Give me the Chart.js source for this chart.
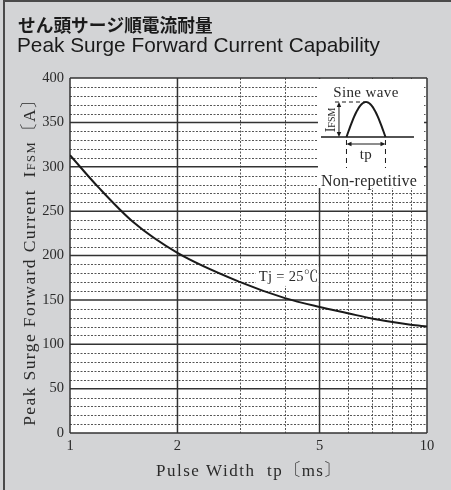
<!DOCTYPE html>
<html>
<head>
<meta charset="utf-8">
<script src="https://cdn.jsdelivr.net/npm/chart.js@4.4.1/dist/chart.umd.min.js"></script>
<style>
  html, body { margin: 0; padding: 0; background: #d3d4d6; }
  #wrap { width: 451px; height: 490px; }
</style>
</head>
<body>
<div id="wrap"><canvas id="surgeChart" width="451" height="490"></canvas></div>
<script>
// Peak surge forward current vs pulse width
const pulseWidths = [1, 1.2, 1.5, 2, 3, 4, 5, 6, 7, 8, 9, 10]
const surgeCurrent = [313, 277, 238, 203, 170, 152, 142, 135, 129, 125, 122, 120]

// tick labels and grid lines
const xLabelTicks = [1, 2, 5, 10]
const xMinorTicks = [3, 4, 6, 7, 8, 9]
const yMajorTicks = [0, 50, 100, 150, 200, 250, 300, 350, 400]
const yMinorStep = 10

const SERIF = '"Liberation Serif", "Noto Serif CJK JP", "Noto Sans CJK JP", serif'
const TEXT = '#2a2a2a'

// white plot background + grid, drawn through the scales
const gridPlugin = {
  id: 'grid',
  beforeDatasetsDraw(chart) {
    const { ctx, chartArea: a, scales: { x, y } } = chart
    ctx.save()
    ctx.fillStyle = '#fff'
    ctx.fillRect(a.left, a.top, a.right - a.left, a.bottom - a.top)

    // minor dashed lines
    ctx.strokeStyle = '#555'
    ctx.lineWidth = 1
    ctx.setLineDash([2, 1.5])
    for (let v = 0; v <= 400; v += yMinorStep) {
      if (yMajorTicks.includes(v)) continue
      const py = Math.round(y.getPixelForValue(v)) + 0.5
      ctx.beginPath(); ctx.moveTo(a.left, py); ctx.lineTo(a.right, py); ctx.stroke()
    }
    xMinorTicks.forEach((v) => {
      const px = Math.round(x.getPixelForValue(v)) + 0.5
      ctx.beginPath(); ctx.moveTo(px, a.top); ctx.lineTo(px, a.bottom); ctx.stroke()
    })

    // major solid lines
    ctx.setLineDash([])
    ctx.strokeStyle = '#333'
    ctx.lineWidth = 1.5
    yMajorTicks.forEach((v) => {
      const py = y.getPixelForValue(v)
      ctx.beginPath(); ctx.moveTo(a.left, py); ctx.lineTo(a.right, py); ctx.stroke()
    })
    xLabelTicks.forEach((v) => {
      const px = x.getPixelForValue(v)
      ctx.beginPath(); ctx.moveTo(px, a.top); ctx.lineTo(px, a.bottom); ctx.stroke()
    })
    ctx.restore()
  },
}

// draw text made of pieces with different fonts (I + small FSM), returns width
function drawPieces(ctx, pieces, startX, baseY) {
  let cx = startX
  pieces.forEach((p) => {
    ctx.font = p.font
    ctx.fillText(p.text, cx, baseY)
    cx += ctx.measureText(p.text).width
  })
  return cx - startX
}
function measurePieces(ctx, pieces) {
  let w = 0
  pieces.forEach((p) => { ctx.font = p.font; w += ctx.measureText(p.text).width })
  return w
}

function arrowHead(ctx, x, y, dir) {
  // dir: unit vector the arrow points to
  const len = 5, half = 2.2
  const [dx, dy] = dir
  ctx.beginPath()
  ctx.moveTo(x, y)
  ctx.lineTo(x - dx * len - dy * half, y - dy * len + dx * half)
  ctx.lineTo(x - dx * len + dy * half, y - dy * len - dx * half)
  ctx.closePath()
  ctx.fill()
}

// Tj label and the sine wave inset
const annotationPlugin = {
  id: 'annotations',
  afterDatasetsDraw(chart) {
    const { ctx, chartArea: a, scales: { x, y } } = chart
    ctx.save()

    // Tj = 25℃ label, right edge at the 5 ms line
    const tjRight = x.getPixelForValue(5) - 1
    const tjY = y.getPixelForValue(177)
    ctx.font = '14.5px ' + SERIF
    ctx.letterSpacing = '0.3px'
    const tjText = 'Tj = 25℃'
    const tjW = ctx.measureText(tjText).width
    ctx.fillStyle = '#fff'
    ctx.fillRect(tjRight - tjW - 3, tjY - 9, tjW + 3, 19)
    ctx.fillStyle = TEXT
    ctx.textAlign = 'right'
    ctx.textBaseline = 'middle'
    ctx.fillText(tjText, tjRight, tjY + 1)

    // inset box
    const x0 = x.getPixelForValue(4.95)
    const x1 = a.right - 3
    const y0 = a.top + 1
    const y1 = y.getPixelForValue(276)
    ctx.fillStyle = '#fff'
    ctx.fillRect(x0, y0, x1 - x0, y1 - y0)

    ctx.fillStyle = TEXT
    ctx.strokeStyle = '#1a1a1a'
    ctx.textAlign = 'center'
    ctx.textBaseline = 'middle'
    ctx.letterSpacing = '0.4px'
    ctx.font = '15px ' + SERIF
    ctx.fillText('Sine wave', x0 + 48, y0 + 14)

    const sL = x0 + 28.5, sR = x0 + 67.5
    const base = y0 + 58, peak = y0 + 23
    // baseline
    ctx.lineWidth = 1.4
    ctx.beginPath(); ctx.moveTo(x0 + 3, base); ctx.lineTo(x0 + 96, base); ctx.stroke()
    // half sine
    ctx.lineWidth = 2
    ctx.beginPath()
    for (let i = 0; i <= 40; i++) {
      const t = i / 40
      const px = sL + (sR - sL) * t
      const py = base - (base - peak) * Math.sin(Math.PI * t)
      if (i === 0) ctx.moveTo(px, py); else ctx.lineTo(px, py)
    }
    ctx.stroke()
    // dashed peak line and dashed verticals
    ctx.lineWidth = 1
    ctx.setLineDash([4, 3])
    ctx.beginPath(); ctx.moveTo(x0 + 17, peak); ctx.lineTo(x0 + 47, peak); ctx.stroke()
    ctx.setLineDash([5, 4])
    ctx.beginPath(); ctx.moveTo(sL, base + 3); ctx.lineTo(sL, y0 + 89); ctx.stroke()
    ctx.beginPath(); ctx.moveTo(sR, base + 3); ctx.lineTo(sR, y0 + 89); ctx.stroke()
    ctx.setLineDash([])
    // IFSM arrow
    const ax = x0 + 21
    ctx.beginPath(); ctx.moveTo(ax, peak + 3); ctx.lineTo(ax, base - 3); ctx.stroke()
    ctx.fillStyle = '#1a1a1a'
    arrowHead(ctx, ax, peak, [0, -1])
    arrowHead(ctx, ax, base, [0, 1])
    // tp arrow
    const ty = y0 + 65
    ctx.beginPath(); ctx.moveTo(sL + 3, ty); ctx.lineTo(sR - 3, ty); ctx.stroke()
    arrowHead(ctx, sL, ty, [-1, 0])
    arrowHead(ctx, sR, ty, [1, 0])

    ctx.fillStyle = TEXT
    ctx.font = '15px ' + SERIF
    ctx.fillText('tp', x0 + 48, y0 + 76)
    ctx.font = '16px ' + SERIF
    ctx.letterSpacing = '0.2px'
    ctx.fillText('Non-repetitive', x0 + 51, y0 + 103)

    // rotated IFSM label in inset
    ctx.save()
    ctx.translate(x0 + 17, y0 + 41)
    ctx.rotate(-Math.PI / 2)
    ctx.textAlign = 'left'
    ctx.textBaseline = 'alphabetic'
    ctx.letterSpacing = '0px'
    const iPieces = [
      { text: 'I', font: '14px ' + SERIF },
      { text: 'FSM', font: '10px ' + SERIF },
    ]
    drawPieces(ctx, iPieces, -measurePieces(ctx, iPieces) / 2, 0)
    ctx.restore()

    ctx.restore()
  },
}

// page frame, titles and axis titles
const titlesPlugin = {
  id: 'titles',
  beforeDraw(chart) {
    const { ctx } = chart
    ctx.save()
    ctx.fillStyle = '#d3d4d6'
    ctx.fillRect(0, 0, chart.width, chart.height)
    ctx.strokeStyle = '#4a4a4a'
    ctx.lineWidth = 2
    ctx.beginPath()
    ctx.moveTo(4, chart.height); ctx.lineTo(4, 1); ctx.lineTo(chart.width, 1)
    ctx.stroke()
    ctx.restore()
  },
  afterDraw(chart) {
    const { ctx, chartArea: a } = chart
    ctx.save()
    ctx.fillStyle = '#1a1a1a'
    ctx.textAlign = 'left'
    ctx.textBaseline = 'middle'
    ctx.font = 'bold 17.7px "Noto Sans CJK JP", sans-serif'
    ctx.fillText('せん頭サージ順電流耐量', 18, 25)
    ctx.textBaseline = 'alphabetic'
    ctx.font = '20.8px "Liberation Sans", Arial, sans-serif'
    ctx.fillText('Peak Surge Forward Current Capability', 17, 52)

    ctx.fillStyle = TEXT
    ctx.letterSpacing = '1.5px'
    // x axis title
    const xPieces = [
      { text: 'Pulse Width  tp', font: '17px ' + SERIF },
      { text: '〔ms〕', font: '17px ' + SERIF },
    ]
    const xw = measurePieces(ctx, xPieces)
    drawPieces(ctx, xPieces, (a.left + a.right) / 2 - xw / 2 + 1, 476)

    // y axis title
    ctx.letterSpacing = '1.4px'
    ctx.translate(35, (a.top + a.bottom) / 2 + 2)
    ctx.rotate(-Math.PI / 2)
    const yPieces = [
      { text: 'Peak Surge Forward Current  I', font: '17.5px ' + SERIF },
      { text: 'FSM', font: '12.5px ' + SERIF },
      { text: '〔A〕', font: '17.5px ' + SERIF },
    ]
    const yw = measurePieces(ctx, yPieces)
    drawPieces(ctx, yPieces, -yw / 2, 0)
    ctx.restore()
  },
}

const tickFont = { family: SERIF, size: 14.5 }

new Chart(document.getElementById('surgeChart'), {
  type: 'line',
  data: {
    datasets: [
      {
        label: 'IFSM',
        data: pulseWidths.map((v, i) => ({ x: v, y: surgeCurrent[i] })),
        borderColor: '#1a1a1a',
        borderWidth: 2,
        pointRadius: 0,
        fill: false,
        cubicInterpolationMode: 'monotone',
      },
    ],
  },
  options: {
    responsive: false,
    animation: false,
    layout: { padding: { top: 78, right: 24, left: 0, bottom: 0 } },
    plugins: { legend: { display: false }, tooltip: { enabled: false } },
    scales: {
      x: {
        type: 'logarithmic',
        min: 1,
        max: 10,
        afterBuildTicks: (scale) => {
          scale.ticks = xLabelTicks.map((v) => ({ value: v }))
        },
        afterFit: (scale) => { scale.height = 57 },
        ticks: {
          autoSkip: false,
          maxRotation: 0,
          padding: 4,
          color: TEXT,
          font: tickFont,
          callback: (v) => String(v),
        },
        grid: { display: false, drawTicks: false },
        border: { display: false },
      },
      y: {
        type: 'linear',
        min: 0,
        max: 400,
        afterBuildTicks: (scale) => {
          scale.ticks = yMajorTicks.map((v) => ({ value: v }))
        },
        afterFit: (scale) => { scale.width = 70 },
        ticks: { padding: 6, color: TEXT, font: tickFont },
        grid: { display: false, drawTicks: false },
        border: { display: false },
      },
    },
  },
  plugins: [titlesPlugin, gridPlugin, annotationPlugin],
})
</script>
</body>
</html>
